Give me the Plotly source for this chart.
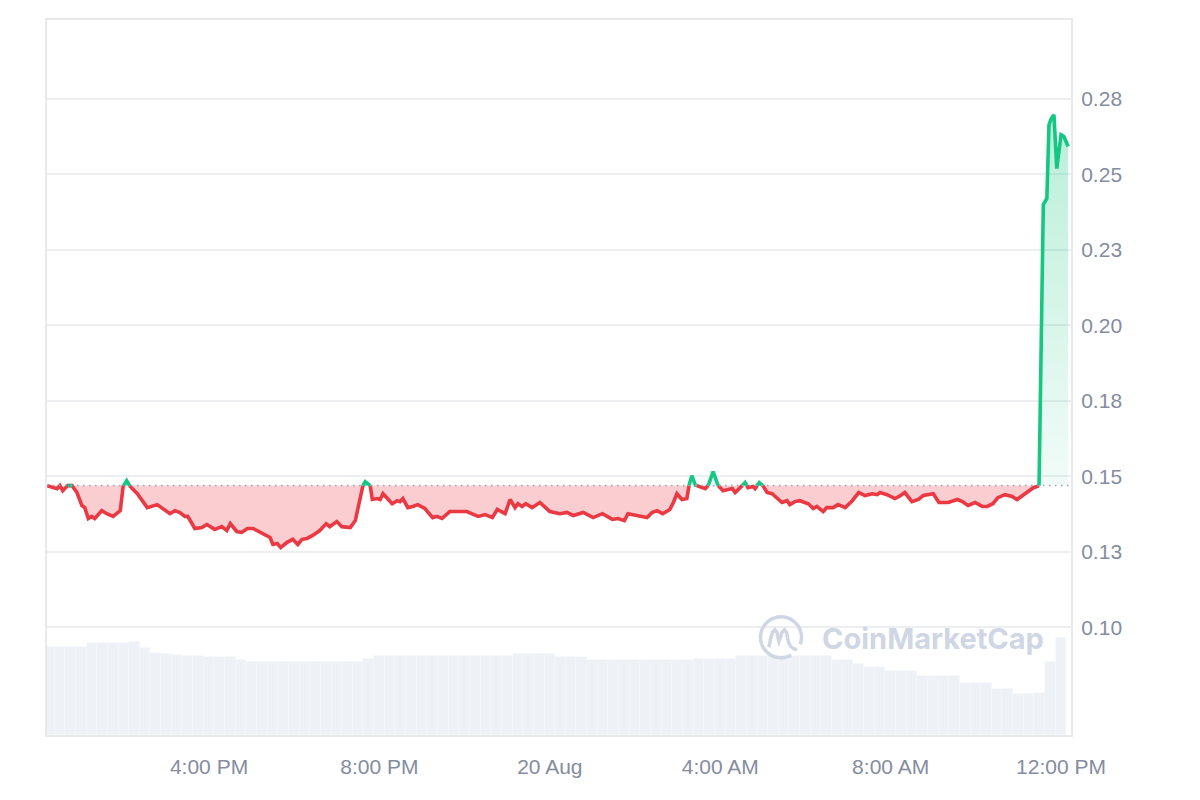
import plotly.graph_objects as go
from datetime import datetime, timedelta
import math

# ---------------- data ----------------
START = datetime(2024, 8, 19, 12, 0)

price_minutes = [12, 20, 26, 30, 34, 41, 47, 54, 61, 65, 70, 75, 79, 89, 96, 105, 115, 119, 124, 129,
                 139, 146, 153, 167, 175, 185, 192, 199, 206, 210, 220, 230, 237, 248, 258, 265, 270, 279, 286, 294,
                 302, 312, 326, 330, 336, 341, 350, 358, 365, 371, 378, 386, 396, 405, 410, 420, 427, 439, 446, 450,
                 455, 460, 467, 470, 477, 481, 485, 492, 498, 505, 509, 513, 520, 527, 534, 544, 555, 561, 568, 579,
                 603, 619, 629, 639, 646, 657, 664, 671, 675, 681, 686, 695, 706, 720, 734, 744, 753, 767, 781, 794,
                 808, 816, 825, 830, 847, 857, 864, 871, 879, 889, 894, 899, 906, 913, 916, 920, 925, 932, 939, 943,
                 950, 957, 964, 971, 977, 981, 988, 995, 999, 1006, 1009, 1015, 1020, 1026, 1033, 1040, 1047, 1054, 1058, 1065,
                 1072, 1084, 1091, 1096, 1105, 1110, 1119, 1126, 1136, 1146, 1155, 1164, 1174, 1181, 1185, 1195, 1206, 1212, 1220, 1230,
                 1239, 1246, 1253, 1260, 1268, 1281, 1294, 1301, 1309, 1319, 1329, 1336, 1344, 1351, 1361, 1371, 1378, 1385, 1394, 1401,
                 1406, 1409, 1415, 1420, 1423, 1426, 1430, 1434, 1440, 1444, 1450]

price_values = [0.1469, 0.1465, 0.1459, 0.1469, 0.1452, 0.1469, 0.1469, 0.1446, 0.1403, 0.1396, 0.1360, 0.1367, 0.1360, 0.1386, 0.1376, 0.1367, 0.1386, 0.1466, 0.1485, 0.1466,
                0.1442, 0.1419, 0.1396, 0.1406, 0.1393, 0.1376, 0.1386, 0.1380, 0.1367, 0.1367, 0.1327, 0.1330, 0.1340, 0.1324, 0.1333, 0.1320, 0.1343, 0.1317, 0.1314, 0.1327,
                0.1327, 0.1314, 0.1297, 0.1274, 0.1277, 0.1264, 0.1281, 0.1291, 0.1274, 0.1291, 0.1294, 0.1304, 0.1320, 0.1343, 0.1333, 0.1350, 0.1333, 0.1330, 0.1353, 0.1396,
                0.1462, 0.1482, 0.1469, 0.1423, 0.1426, 0.1423, 0.1442, 0.1426, 0.1409, 0.1419, 0.1416, 0.1426, 0.1396, 0.1400, 0.1406, 0.1393, 0.1363, 0.1367, 0.1360, 0.1383,
                0.1383, 0.1367, 0.1373, 0.1363, 0.1390, 0.1376, 0.1423, 0.1396, 0.1409, 0.1400, 0.1409, 0.1396, 0.1413, 0.1383, 0.1376, 0.1380, 0.1370, 0.1380, 0.1363, 0.1376,
                0.1357, 0.1360, 0.1353, 0.1376, 0.1367, 0.1363, 0.1380, 0.1386, 0.1376, 0.1390, 0.1413, 0.1442, 0.1423, 0.1426, 0.1469, 0.1502, 0.1470, 0.1466, 0.1459, 0.1469,
                0.1515, 0.1469, 0.1452, 0.1456, 0.1459, 0.1446, 0.1462, 0.1479, 0.1462, 0.1466, 0.1459, 0.1479, 0.1469, 0.1446, 0.1442, 0.1426, 0.1413, 0.1419, 0.1406, 0.1416,
                0.1419, 0.1409, 0.1393, 0.1400, 0.1383, 0.1396, 0.1396, 0.1406, 0.1396, 0.1419, 0.1446, 0.1436, 0.1442, 0.1439, 0.1446, 0.1439, 0.1426, 0.1433, 0.1446, 0.1416,
                0.1423, 0.1436, 0.1439, 0.1442, 0.1413, 0.1413, 0.1423, 0.1416, 0.1403, 0.1413, 0.1400, 0.1400, 0.1409, 0.1429, 0.1439, 0.1433, 0.1423, 0.1436, 0.1449, 0.1462,
                0.1466, 0.1469, 0.2400, 0.2420, 0.2664, 0.2684, 0.2697, 0.2519, 0.2631, 0.2625, 0.2592]

volume_minutes = list(range(15, 1441, 15))
volume_musd = [4.91, 4.91, 4.91, 4.91, 5.13, 5.13, 5.13, 5.13, 5.19, 4.85,
               4.60, 4.52, 4.46, 4.41, 4.41, 4.35, 4.35, 4.35, 4.18, 4.07,
               4.07, 4.07, 4.07, 4.07, 4.07, 4.07, 4.07, 4.07, 4.07, 4.07,
               4.24, 4.41, 4.41, 4.41, 4.41, 4.41, 4.41, 4.41, 4.41, 4.41,
               4.41, 4.41, 4.41, 4.41, 4.52, 4.52, 4.52, 4.52, 4.35, 4.35,
               4.35, 4.18, 4.18, 4.18, 4.18, 4.18, 4.18, 4.18, 4.18, 4.18,
               4.18, 4.27, 4.27, 4.27, 4.27, 4.41, 4.41, 4.41, 4.41, 4.41,
               4.41, 4.41, 4.41, 4.41, 4.18, 4.18, 3.96, 3.79, 3.79, 3.59,
               3.59, 3.59, 3.29, 3.29, 3.29, 3.29, 2.90, 2.90, 2.90, 2.57,
               2.57, 2.30, 2.30, 2.35, 4.07, 5.41]

x_tick_times = ["2024-08-19 16:00", "2024-08-19 20:00", "2024-08-20 00:00",
                "2024-08-20 04:00", "2024-08-20 08:00", "2024-08-20 12:00"]
x_tick_labels = ["4:00 PM", "8:00 PM", "20 Aug", "4:00 AM", "8:00 AM", "12:00 PM"]

y_tick_values = [0.100, 0.125, 0.150, 0.175, 0.200, 0.225, 0.250, 0.275]
y_tick_labels = ["0.10", "0.13", "0.15", "0.18", "0.20", "0.23", "0.25", "0.28"]

assert len(price_minutes) == len(price_values)
assert len(volume_minutes) == len(volume_musd)

# ---------------- styling ----------------
RED = "#ea3943"
GREEN = "#16c784"
TICK_COLOR = "#858c9f"
GRID = "#eceef1"
FONT = "Liberation Sans, Arial, sans-serif"

W, H = 1200, 800
# page offset of the plot div is ~8px, margins compensate for it
ML, MR, MT, MB = 39, 137, 10, 73
PW, PH = W - ML - MR, H - MT - MB

base = price_values[0]
t = [START + timedelta(minutes=m) for m in price_minutes]

# insert baseline crossings so the line/area can change colour exactly at the baseline
xs, ys = [], []
for i in range(len(t)):
    if i > 0:
        p0, p1 = price_values[i - 1], price_values[i]
        if (p0 - base) * (p1 - base) < 0:
            f = (base - p0) / (p1 - p0)
            xs.append(t[i - 1] + (t[i] - t[i - 1]) * f)
            ys.append(base)
    xs.append(t[i])
    ys.append(price_values[i])

up_line = [y if y >= base else None for y in ys]
dn_line = [y if y <= base else None for y in ys]
up_fill = [max(y, base) for y in ys]
dn_fill = [min(y, base) for y in ys]
base_line = [base] * len(xs)

fig = go.Figure()

# volume bars (secondary hidden axis)
fig.add_trace(go.Bar(
    x=[START + timedelta(minutes=m) for m in volume_minutes], y=volume_musd,
    width=15 * 60 * 1000, marker=dict(color="#eef1f5", line=dict(width=0.6, color="#f5f7f9")),
    yaxis="y2", hoverinfo="skip", showlegend=False))

# area fills
fig.add_trace(go.Scatter(x=xs, y=base_line, mode="lines", line=dict(width=0),
                         hoverinfo="skip", showlegend=False))
fig.add_trace(go.Scatter(x=xs, y=up_fill, mode="lines", line=dict(width=0), fill="tonexty",
                         fillgradient=dict(type="vertical",
                                           colorscale=[[0, "rgba(22,199,132,0.06)"],
                                                       [1, "rgba(22,199,132,0.30)"]]),
                         hoverinfo="skip", showlegend=False))
fig.add_trace(go.Scatter(x=xs, y=base_line, mode="lines", line=dict(width=0),
                         hoverinfo="skip", showlegend=False))
fig.add_trace(go.Scatter(x=xs, y=dn_fill, mode="lines", line=dict(width=0), fill="tonexty",
                         fillcolor="rgba(234,57,67,0.25)", hoverinfo="skip", showlegend=False))

# price lines
fig.add_trace(go.Scatter(x=xs, y=dn_line, mode="lines", line=dict(color=RED, width=3.6),
                         connectgaps=False, showlegend=False))
fig.add_trace(go.Scatter(x=xs, y=up_line, mode="lines", line=dict(color=GREEN, width=3.6),
                         connectgaps=False, showlegend=False))

# dotted baseline
fig.add_shape(type="line", xref="paper", yref="y", x0=0, x1=1, y0=base, y1=base,
              line=dict(color="#9aa1b0", width=1.5, dash="1.5px,4.5px"), layer="above")

# watermark: logo + text  (positions in page pixels -> paper coords)
OFF = 8
def to_paper(px, py):
    return (px - OFF - ML) / PW, (MT + PH - (py - OFF)) / PH

cx, cy, r = 781, 637, 20.5
arc = []
for k in range(0, 61):
    a = math.radians(60 + (360 - 40) * k / 60)
    arc.append(to_paper(cx + r * math.cos(a), cy + r * math.sin(a)))
path = "M " + " L ".join(f"{x:.5f},{y:.5f}" for x, y in arc)
fig.add_shape(type="path", xref="paper", yref="paper", path=path,
              line=dict(color="#cfd6e4", width=3.5), layer="above")
m_pts = [(-12, 10), (-10.5, 2), (-8.5, -5), (-6, -7.5), (-4, -5), (-3, 0), (-2, 4), (-0.5, 0),
         (1, -5), (3.5, -7.5), (5.5, -5), (6.5, 0), (7.5, 5), (9.5, 9), (12.5, 11.5), (16, 12.5)]
m_path = "M " + " L ".join("{:.5f},{:.5f}".format(*to_paper(cx + dx, cy + dy)) for dx, dy in m_pts)
fig.add_shape(type="path", xref="paper", yref="paper", path=m_path,
              line=dict(color="#cfd6e4", width=3.5), layer="above")
fig.add_annotation(xref="paper", yref="paper", x=to_paper(820, 0)[0], y=to_paper(0, 638)[1],
                   text="<b>CoinMarketCap</b>", showarrow=False, xanchor="left", yanchor="middle",
                   font=dict(family="Inter, Noto Sans, sans-serif", size=29, color="#cfd6e4"))

x_start = START + timedelta(minutes=11.8)
x_end = START + timedelta(minutes=1454)

fig.update_layout(
    width=W, height=H, margin=dict(l=ML, r=MR, t=MT, b=MB, pad=0),
    paper_bgcolor="white", plot_bgcolor="white", showlegend=False,
    bargap=0, hovermode=False,
    xaxis=dict(type="date", range=[x_start, x_end], tickvals=x_tick_times, ticktext=x_tick_labels,
               showgrid=False, zeroline=False, showline=True, mirror=True, linecolor="#e8e9eb", linewidth=2,
               ticks="", ticklabelstandoff=12,
               tickfont=dict(family=FONT, size=21, color=TICK_COLOR)),
    yaxis=dict(range=[0.0643, 0.3011], side="right", tickvals=y_tick_values, ticktext=y_tick_labels,
               showgrid=True, gridcolor=GRID, gridwidth=1.5, zeroline=False,
               showline=True, mirror=True, linecolor="#e8e9eb", linewidth=2,
               ticks="", ticklabelstandoff=4,
               tickfont=dict(family=FONT, size=21, color=TICK_COLOR)),
    yaxis2=dict(range=[0, 40], overlaying="y", visible=False, showgrid=False),
)

fig.write_html("out.html")
